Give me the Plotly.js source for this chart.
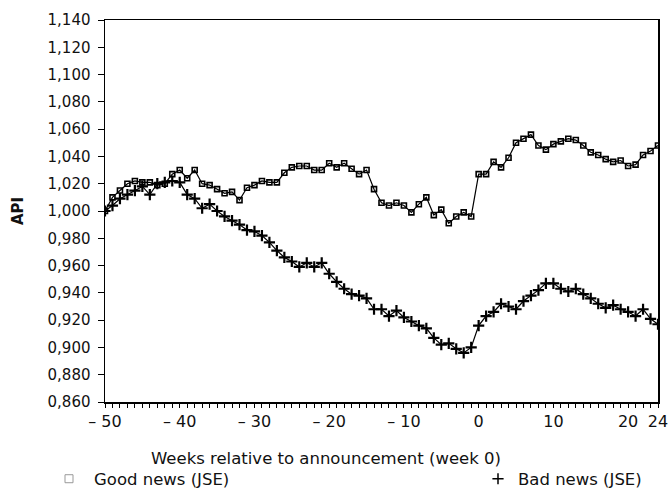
<!DOCTYPE html>
<html>
<head>
<meta charset="utf-8">
<script src="https://cdn.plot.ly/plotly-3.0.1.min.js"></script>
<style>html,body{margin:0;padding:0;background:#fff;}#chart{width:670px;height:490px;}</style>
</head>
<body>
<div id="chart"></div>
<script>
// Weeks relative to announcement
const weeks = [];
for (let w = -50; w <= 24; w++) weeks.push(w);

const goodNews = [
  1.000, 1.010, 1.015, 1.020, 1.022, 1.021, 1.021, 1.019, 1.020, 1.027,
  1.030, 1.024, 1.030, 1.020, 1.019, 1.016, 1.013, 1.014, 1.008, 1.017,
  1.019, 1.022, 1.021, 1.021, 1.028, 1.032, 1.033, 1.033, 1.030, 1.030,
  1.035, 1.032, 1.035, 1.031, 1.027, 1.030, 1.016, 1.006, 1.004, 1.006,
  1.004, 0.999, 1.005, 1.010, 0.997, 1.001, 0.991, 0.996, 0.999, 0.996,
  1.027, 1.027, 1.036, 1.032, 1.039, 1.050, 1.053, 1.056, 1.048, 1.045,
  1.049, 1.051, 1.053, 1.052, 1.048, 1.043, 1.041, 1.038, 1.036, 1.037,
  1.033, 1.034, 1.041, 1.044, 1.048
];

const badNews = [
  1.000, 1.004, 1.009, 1.012, 1.015, 1.018, 1.012, 1.020, 1.021, 1.022,
  1.021, 1.012, 1.009, 1.002, 1.005, 1.000, 0.996, 0.993, 0.990, 0.986,
  0.985, 0.982, 0.977, 0.971, 0.966, 0.963, 0.959, 0.962, 0.959, 0.962,
  0.954, 0.948, 0.943, 0.939, 0.938, 0.936, 0.928, 0.928, 0.923, 0.927,
  0.922, 0.919, 0.916, 0.914, 0.907, 0.902, 0.903, 0.899, 0.896, 0.900,
  0.916, 0.923, 0.926, 0.932, 0.930, 0.928, 0.934, 0.938, 0.942, 0.947,
  0.947, 0.943, 0.941, 0.943, 0.939, 0.936, 0.932, 0.929, 0.931, 0.928,
  0.926, 0.923, 0.928, 0.921, 0.917
];

const yTickVals = [0.86,0.88,0.90,0.92,0.94,0.96,0.98,1.00,1.02,1.04,1.06,1.08,1.10,1.12,1.14];
const yTickText = ['0,860','0,880','0,900','0,920','0,940','0,960','0,980','1,000','1,020','1,040','1,060','1,080','1,100','1,120','1,140'];
const xTickVals = [-50,-40,-30,-20,-10,0,10,20,24];
const xTickText = ['\u2013 50','\u2013 40','\u2013 30','\u2013 20','\u2013 10','0','10','20','24'];

const FONT = 'DejaVu Sans, Arial, sans-serif';

const traces = [
  {
    x: weeks, y: goodNews, mode: 'lines+markers', name: 'Good news (JSE)',
    line: {color: '#000', width: 1.2},
    marker: {symbol: 'square-open', size: 5, color: '#000', line: {width: 1.6, color: '#000'}},
    showlegend: false
  },
  {
    x: weeks, y: badNews, mode: 'lines+markers', name: 'Bad news (JSE)',
    line: {color: '#000', width: 1.2},
    marker: {symbol: 'cross-thin', size: 8, color: '#000', line: {width: 2.2, color: '#000'}},
    showlegend: false
  },
  {
    x: [null], y: [null], mode: 'markers', name: 'Good news (JSE)',
    marker: {symbol: 'square-open', size: 8, color: '#999', line: {width: 1, color: '#999'}},
    legend: 'legend'
  },
  {
    x: [null], y: [null], mode: 'markers', name: 'Bad news (JSE)',
    marker: {symbol: 'cross-thin', size: 8, color: '#000', line: {width: 1.5, color: '#000'}},
    legend: 'legend2'
  }
];

const layout = {
  width: 670, height: 490,
  margin: {l: 105, r: 12, t: 20, b: 88, autoexpand: false},
  paper_bgcolor: '#fff', plot_bgcolor: '#fff',
  font: {family: FONT, size: 15, color: '#111'},
  xaxis: {
    range: [-50, 24], tickmode: 'array', tickvals: xTickVals, ticktext: xTickText,
    showgrid: false, zeroline: false, showline: true, linecolor: '#000', linewidth: 1.5, mirror: true,
    ticks: 'outside', ticklen: 4, tickwidth: 1, tickcolor: '#000',
    minor: {dtick: 1, tick0: 0, ticks: 'outside', ticklen: 4, tickwidth: 1, tickcolor: '#000', showgrid: false},
    tickfont: {family: FONT, size: 16, color: '#111'}
  },
  yaxis: {
    range: [0.86, 1.14], tickmode: 'array', tickvals: yTickVals, ticktext: yTickText,
    showgrid: false, zeroline: false, showline: true, linecolor: '#000', linewidth: 1.5, mirror: true,
    ticks: 'outside', ticklen: 6, tickwidth: 1, tickcolor: '#000', ticklabelstandoff: 4,
    tickfont: {family: FONT, size: 15, color: '#111'},
    title: {text: '<b>API</b>', font: {family: FONT, size: 15, color: '#111'}, standoff: 20}
  },
  annotations: [
    {text: 'Weeks relative to announcement (week 0)', xref: 'paper', yref: 'paper',
     x: (326 - 105) / 553, y: (402 - 458) / 382, xanchor: 'center', yanchor: 'middle', showarrow: false,
     font: {family: FONT, size: 16.5, color: '#111'}}
  ],
  legend: {
    x: (44 - 105) / 553, y: (402 - 479) / 382, xanchor: 'left', yanchor: 'middle',
    orientation: 'h', bgcolor: 'rgba(0,0,0,0)', font: {family: FONT, size: 16.5, color: '#111'},
    itemwidth: 40, borderwidth: 0
  },
  legend2: {
    x: (478 - 105) / 553, y: (402 - 479) / 382, xanchor: 'left', yanchor: 'middle',
    orientation: 'h', bgcolor: 'rgba(0,0,0,0)', font: {family: FONT, size: 16.5, color: '#111'},
    itemwidth: 30, borderwidth: 0
  }
};

Plotly.newPlot('chart', traces, layout, {displayModeBar: false, staticPlot: true});
</script>
</body>
</html>
